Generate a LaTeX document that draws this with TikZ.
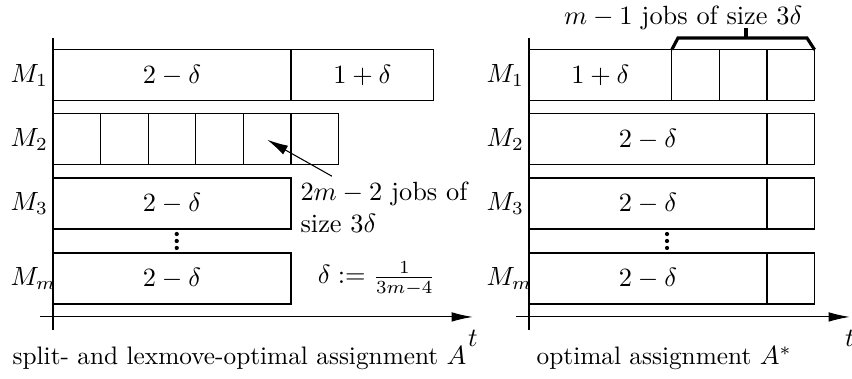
\documentclass[tikz,border=0pt]{standalone}
\usepackage{tikz}
\usetikzlibrary{arrows.meta,calc}
\tikzset{
  axisline/.style={-{Latex[length=8pt,width=3.6pt]}},
  rowlabel/.style={anchor=west,inner sep=0pt},
  caption/.style={anchor=base,inner sep=0pt,font=\fontsize{9.6}{12}\selectfont},
}
\newcommand{\jobbox}[4]{%
  \draw (#1,#3) rectangle node{#4} (#2,#3+0.68);
}
\newcommand{\machaxes}[1]{%
  \draw (0,0.653) -- (0,4.547);
  \draw[axisline] (-0.27,0.827) -- (#1,0.827) node[below=5pt,inner sep=0pt] {$t$};
  \foreach \y/\n in {4.05/1, 3.195/2, 2.34/3, 1.34/m}
    \node[rowlabel] at (-0.9,\y) {$M_{\n}$};
}

\begin{document}
\begin{tikzpicture}[x=0.6347cm,y=1cm]
  \useasboundingbox (-1.113,0) rectangle (16.786,5.0533);
  \machaxes{8.82}
  \jobbox{0}{5}{3.71}{$2-\delta$}
  \jobbox{5}{8}{3.71}{$1+\delta$}
  \foreach \i in {0,...,5} {\jobbox{\i}{\i+1}{2.855}{}}
  \jobbox{0}{5}{2.0}{$2-\delta$}
  \jobbox{0}{5}{1.0}{$2-\delta$}
  \foreach \d in {0,1,2} \fill (2.6,1.747+\d*0.093) circle (0.8pt);
  \node[rowlabel,align=left] (jobsA) at (5.19,2.29) {$2m-2$ jobs of\\size $3\delta$};
  \coordinate (jobT) at (4.5,3.19);
  \draw[-{Latex[length=8pt,width=3.8pt]}] ($(jobsA.north west)+(0.67,0.07)$) -- (jobT);
  \node (deltaDef) at (6.8,1.34) {$\delta := \frac{1}{3m-4}$};
  \node[caption] (capA) at (3.92,0.19) {split- and lexmove-optimal assignment $A$};

  \begin{scope}[xshift=6.347cm]
    \machaxes{6.74}
    \jobbox{0}{3}{3.71}{$1+\delta$}
    \foreach \i in {3,4,5} {\jobbox{\i}{\i+1}{3.71}{}}
    \foreach \y in {2.855,2.0,1.0} {
      \jobbox{0}{5}{\y}{$2-\delta$}
      \jobbox{5}{6}{\y}{}
    }
    \foreach \d in {0,1,2} \fill (2.9,1.747+\d*0.093) circle (0.8pt);
    \draw[very thick] (3,4.39) -- (3.13,4.547) -- (5.84,4.547) -- (6,4.39);
    \draw[very thick] (4.56,4.547) -- (4.56,4.68);
    \node (jobsOpt) at (3.24,4.813) {$m-1$ jobs of size $3\delta$};
    \node[caption] (capOpt) at (2.84,0.19) {optimal assignment $A^*$};
  \end{scope}
\end{tikzpicture}
\end{document}
